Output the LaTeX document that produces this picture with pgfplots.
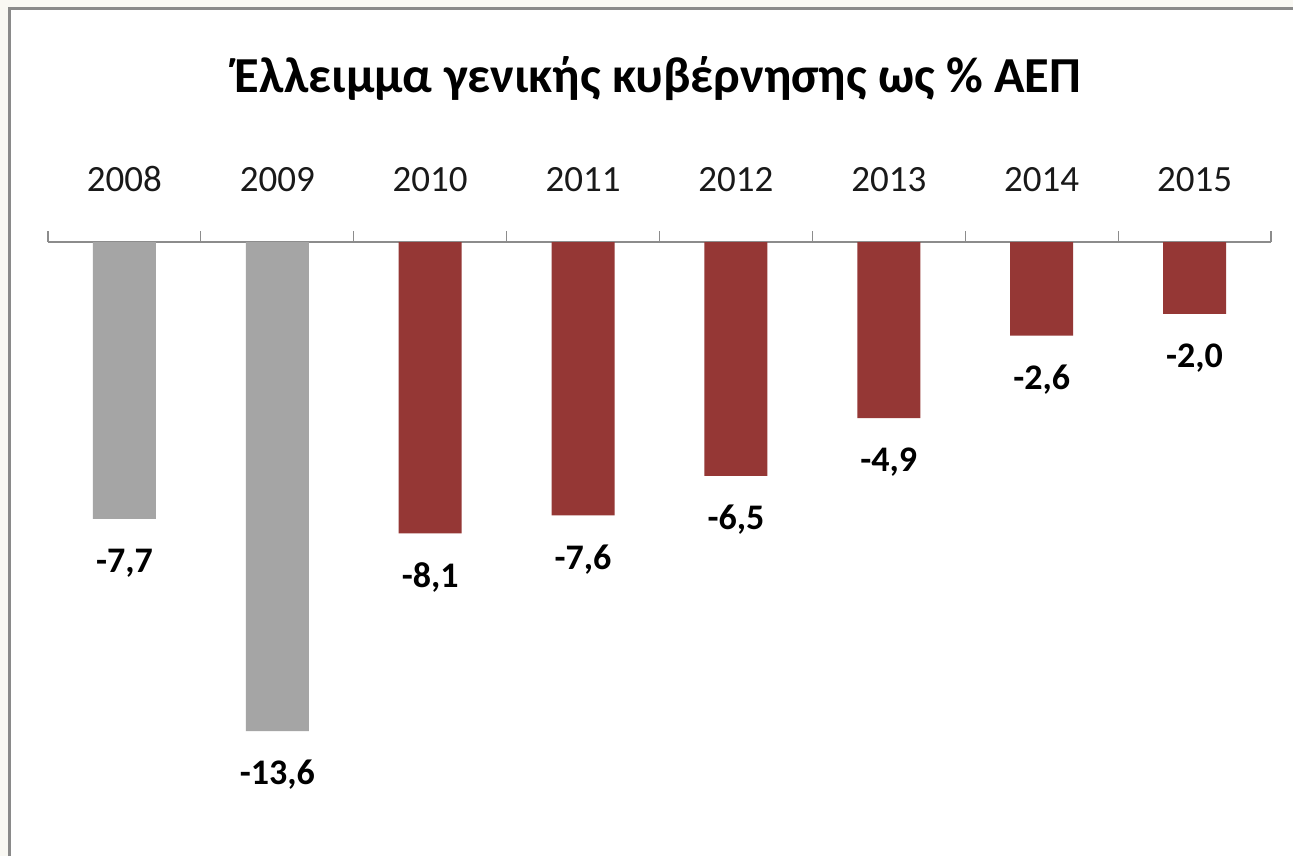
\documentclass[border=0pt]{standalone}
\usepackage{pgfplots}
\pgfplotsset{compat=1.18}
\usepackage{fontspec}
\setmainfont{Carlito}
\definecolor{barred}{HTML}{953735}
\definecolor{bargray}{HTML}{A5A5A5}
\definecolor{framegray}{HTML}{8A8A8A}
\definecolor{axisgray}{HTML}{8C8C8C}
\definecolor{bgout}{HTML}{F9F8F3}
\begin{document}
\begin{tikzpicture}
\useasboundingbox (0,0) rectangle (646.5pt,-428pt);
\fill[bgout] (0,0) rectangle (646.5pt,-428pt);
\fill[white] (4.5pt,-4.5pt) rectangle (646.5pt,-428pt);
\draw[framegray, line width=1.5pt] (4.5pt,-428pt) -- (4.5pt,-4.5pt) -- (646.5pt,-4.5pt);
\node[font=\bfseries\fontsize{25.2}{30}\selectfont, anchor=center] at (329pt,-39.5pt) {Έλλειμμα γενικής κυβέρνησης ως \% ΑΕΠ};
\begin{axis}[
  at={(24pt,-121pt)}, anchor=north west,
  scale only axis,
  width=611.5pt, height=287.7pt,
  xmin=-0.5, xmax=7.5, ymin=-16, ymax=0,
  axis x line*=top,
  axis y line=none,
  axis line style={axisgray, line width=0.6pt},
  xtick={0,1,2,3,4,5,6,7},
  xticklabels={2008,2009,2010,2011,2012,2013,2014,2015},
  major x tick style={draw=none},
  minor xtick={-0.5,0.5,1.5,2.5,3.5,4.5,5.5,6.5,7.5},
  minor x tick style={axisgray, line width=0.6pt},
  minor tick length=5.5pt,
  tick align=inside,
  xticklabel style={anchor=center, yshift=27pt, font=\fontsize{18.5}{22}\selectfont, text=black!90},
  ybar, bar width=31.5pt, bar shift=0pt,
  nodes near coords,
  point meta=explicit symbolic,
  every node near coord/.append style={anchor=center, yshift=-22pt, font=\bfseries\fontsize{18}{22}\selectfont, text=black},
  clip=false,
]
\addplot[fill=bargray, draw=none] coordinates {(0,-7.7) [-7,7] (1,-13.6) [-13,6]};
\addplot[fill=barred, draw=none] coordinates {(2,-8.1) [-8,1] (3,-7.6) [-7,6] (4,-6.5) [-6,5] (5,-4.9) [-4,9] (6,-2.6) [-2,6] (7,-2.0) [-2,0]};
\end{axis}
\end{tikzpicture}
\end{document}
